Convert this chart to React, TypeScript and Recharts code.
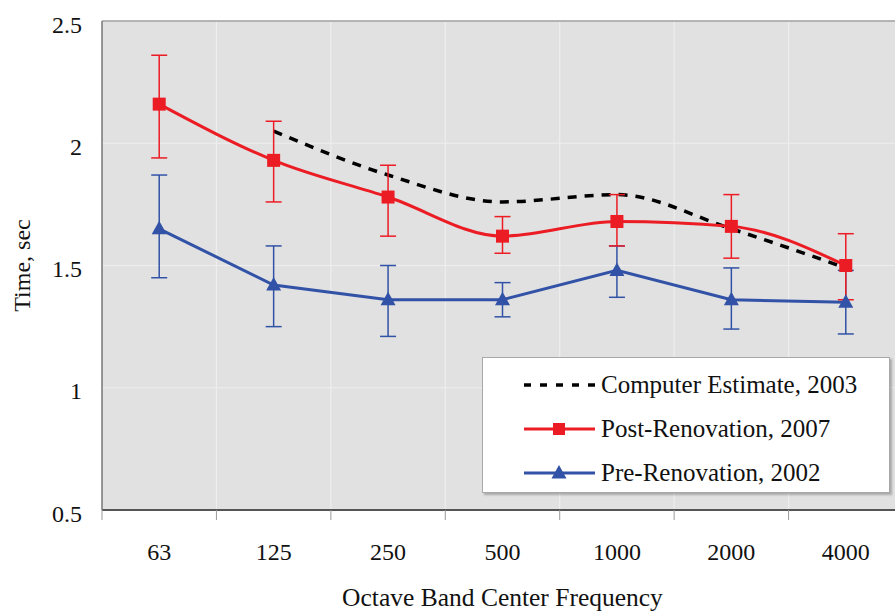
import {
  CartesianGrid,
  ErrorBar,
  Legend,
  Line,
  LineChart,
  ReferenceLine,
  XAxis,
  YAxis
} from 'recharts';

const categories = ['63', '125', '250', '500', '1000', '2000', '4000'];

const estimate2003 = [null, 2.05, 1.87, 1.76, 1.79, 1.65, 1.49];

const post2007 = [2.16, 1.93, 1.78, 1.62, 1.68, 1.66, 1.5];
const post2007High = [2.36, 2.09, 1.91, 1.7, 1.79, 1.79, 1.63];
const post2007Low = [1.94, 1.76, 1.62, 1.55, 1.58, 1.53, 1.36];

const pre2002 = [1.65, 1.42, 1.36, 1.36, 1.48, 1.36, 1.35];
const pre2002High = [1.87, 1.58, 1.5, 1.43, 1.58, 1.49, 1.48];
const pre2002Low = [1.45, 1.25, 1.21, 1.29, 1.37, 1.24, 1.22];

const yTicks = [0.5, 1, 1.5, 2, 2.5];

const legendOrder = ['Computer Estimate, 2003', 'Post-Renovation, 2007', 'Pre-Renovation, 2002'];

const RED = '#ec1c24';
const BLUE = '#3152a6';
const FONT = '"Liberation Serif", "Times New Roman", serif';

const data = categories.map((freq, i) => ({
  freq,
  estimate: estimate2003[i],
  post: post2007[i],
  postErr: [post2007[i] - post2007Low[i], post2007High[i] - post2007[i]],
  pre: pre2002[i],
  preErr: [pre2002[i] - pre2002Low[i], pre2002High[i] - pre2002[i]]
}));

function SquareDot(props: any) {
  const { cx, cy } = props;
  if (cx == null || cy == null) return null;
  return <rect x={cx - 6.5} y={cy - 6.5} width={13} height={13} fill={RED} />;
}

function TriangleDot(props: any) {
  const { cx, cy } = props;
  if (cx == null || cy == null) return null;
  return <polygon points={`${cx},${cy - 8} ${cx - 7.5},${cy + 5.5} ${cx + 7.5},${cy + 5.5}`} fill={BLUE} />;
}

function XTick(props: any) {
  const { x, y, payload, index, visibleTicksCount, width } = props;
  const count = visibleTicksCount || categories.length;
  const half = (Number(width) || 801) / count / 2;
  return (
    <g>
      <line x1={x - half} x2={x - half} y1={y - 10} y2={y} stroke="#9a9a9a" />
      {index === count - 1 && <line x1={x + half} x2={x + half} y1={y - 10} y2={y} stroke="#9a9a9a" />}
      <text x={x} y={y + 40} textAnchor="middle" fill="#111" fontSize={24} fontFamily={FONT}>
        {payload.value}
      </text>
    </g>
  );
}

function YLabel(props: any) {
  const { viewBox } = props;
  if (!viewBox) return null;
  const cx = viewBox.x - 20;
  const cy = viewBox.y + viewBox.height / 2;
  return (
    <text
      x={cx}
      y={cy}
      transform={`rotate(-90 ${cx} ${cy})`}
      textAnchor="middle"
      dominantBaseline="central"
      fill="#111"
      fontSize={24}
      fontFamily={FONT}
    >
      Time, sec
    </text>
  );
}

function LegendBox(props: any) {
  const items = [...(props.payload || [])].sort(
    (a: any, b: any) => legendOrder.indexOf(a.value) - legendOrder.indexOf(b.value)
  );
  return (
    <div
      style={{
        width: 408,
        height: 136,
        background: '#fff',
        border: '1px solid #a8a8a8',
        boxShadow: '2px 2px 2px rgba(0,0,0,0.25)',
        fontFamily: FONT,
        fontSize: 25,
        color: '#111',
        boxSizing: 'border-box',
        paddingTop: 5
      }}
    >
      {items.map((item: any) => (
        <div key={item.value} style={{ display: 'flex', alignItems: 'center', height: 44 }}>
          <svg width={118} height={20} style={{ flex: 'none' }}>
            {item.value === 'Computer Estimate, 2003' ? (
              <line x1={41} x2={112} y1={10} y2={10} stroke="#000" strokeWidth={3.5} strokeDasharray="7 9" />
            ) : (
              <line x1={41} x2={112} y1={10} y2={10} stroke={item.color} strokeWidth={3} />
            )}
            {item.value === 'Post-Renovation, 2007' && <rect x={70} y={4} width={12} height={12} fill={RED} />}
            {item.value === 'Pre-Renovation, 2002' && <polygon points="76,2 68.5,15.5 83.5,15.5" fill={BLUE} />}
          </svg>
          <span style={{ whiteSpace: 'nowrap' }}>{item.value}</span>
        </div>
      ))}
    </div>
  );
}

export default function App() {
  return (
    <div style={{ position: 'absolute', left: 0, top: 0, width: 895, height: 613, overflow: 'hidden', background: '#fff' }}>
      <LineChart width={905} height={613} data={data} margin={{ top: 21, right: 2, bottom: 3, left: 42 }}>
        <CartesianGrid
          fill="#e1e1e1"
          stroke="#eeeeee"
          strokeWidth={1.2}
          verticalCoordinatesGenerator={({ offset }: any) =>
            categories.slice(1).map((_, i) => offset.left + (offset.width * (i + 1)) / categories.length)
          }
        />
        <XAxis
          dataKey="freq"
          scale="band"
          height={100}
          tickLine={false}
          tickSize={10}
          tickMargin={0}
          tick={<XTick />}
          axisLine={{ stroke: '#555', strokeWidth: 2 }}
          interval={0}
          label={{
            value: 'Octave Band Center Frequency',
            position: 'insideBottom',
            offset: 4,
            fill: '#111',
            fontSize: 25.5,
            fontFamily: FONT
          }}
        />
        <YAxis
          width={60}
          domain={[0.5, 2.5]}
          ticks={yTicks}
          tickLine={false}
          tickSize={8}
          tickMargin={12}
          axisLine={{ stroke: '#777', strokeWidth: 1.5 }}
          tick={{ fill: '#111', fontSize: 24, fontFamily: FONT, dy: 3 }}
          label={<YLabel />}
        />
        <ReferenceLine y={2.5} stroke="#a0a0a0" strokeWidth={1.5} />
        <Line
          name="Computer Estimate, 2003"
          dataKey="estimate"
          type="monotone"
          stroke="#000"
          strokeWidth={3.5}
          strokeDasharray="9 8"
          dot={false}
          isAnimationActive={false}
        />
        <Line
          name="Pre-Renovation, 2002"
          dataKey="pre"
          type="linear"
          stroke={BLUE}
          strokeWidth={3}
          dot={<TriangleDot />}
          isAnimationActive={false}
        >
          <ErrorBar dataKey="preErr" direction="y" width={8} stroke={BLUE} strokeWidth={1.5} isAnimationActive={false} />
        </Line>
        <Line
          name="Post-Renovation, 2007"
          dataKey="post"
          type="monotone"
          stroke={RED}
          strokeWidth={3}
          dot={<SquareDot />}
          isAnimationActive={false}
        >
          <ErrorBar dataKey="postErr" direction="y" width={8} stroke={RED} strokeWidth={1.5} isAnimationActive={false} />
        </Line>
        <Legend
          layout="vertical"
          align="center"
          verticalAlign="middle"
          content={<LegendBox />}
          wrapperStyle={{ position: 'absolute', left: 482, top: 357, width: 410 }}
        />
      </LineChart>
    </div>
  );
}
